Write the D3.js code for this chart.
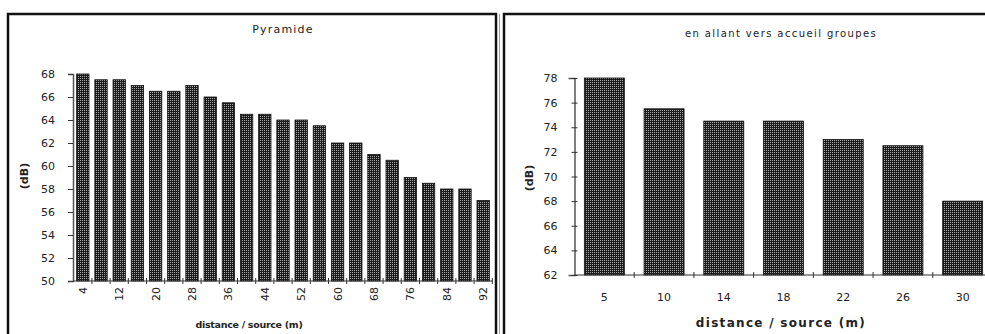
<!DOCTYPE html>
<html><head><meta charset="utf-8">
<script src="https://cdn.jsdelivr.net/npm/d3@7"></script>
<style>body{margin:0;background:#fff}svg{display:block}text{font-family:"DejaVu Sans",sans-serif;fill:#222}</style>
</head><body>
<script>
const leftCategories = [4,8,12,16,20,24,28,32,36,40,44,48,52,56,60,64,68,72,76,80,84,88,92];
const leftValues = [68,67.5,67.5,67,66.5,66.5,67,66,65.5,64.5,64.5,64,64,63.5,62,62,61,60.5,59,58.5,58,58,57];
const leftTicks = [50,52,54,56,58,60,62,64,66,68];
const leftTitle = "Pyramide";
const rightCategories = [5,10,14,18,22,26,30];
const rightValues = [78,75.5,74.5,74.5,73,72.5,68];
const rightTicks = [62,64,66,68,70,72,74,76,78];
const rightTitle = "en allant vers accueil groupes";
const xTitle = "distance / source (m)";
const yTitle = "(dB)";

const svg = d3.select("body").append("svg").attr("width",985).attr("height",334);
const defs = svg.append("defs");
const pat = defs.append("pattern").attr("id","dots").attr("width",2).attr("height",2).attr("patternUnits","userSpaceOnUse");
pat.append("rect").attr("width",2).attr("height",2).attr("fill","#1c1c1c");
pat.append("rect").attr("width",1).attr("height",1).attr("fill","#a8a8a8");

// panel borders
svg.append("rect").attr("x",8).attr("y",14).attr("width",488).attr("height",340).attr("fill","none").attr("stroke","#111").attr("stroke-width",2.5);
svg.append("line").attr("x1",499.5).attr("x2",499.5).attr("y1",14).attr("y2",334).attr("stroke","#999").attr("stroke-width",1);
svg.append("rect").attr("x",504).attr("y",14).attr("width",500).attr("height",340).attr("fill","none").attr("stroke","#111").attr("stroke-width",2.5);

function panel(cfg){
  const x = d3.scaleBand().domain(cfg.cats).range(cfg.xr).paddingInner(cfg.pi).paddingOuter(cfg.po);
  const y = d3.scaleLinear().domain(cfg.yd).range(cfg.yr);
  const g = svg.append("g");
  g.selectAll("rect.bar").data(cfg.vals).join("rect").attr("class","bar")
    .attr("x",(d,i)=>x(cfg.cats[i])).attr("width",x.bandwidth())
    .attr("y",d=>y(d)).attr("height",d=>y(cfg.yd[0])-y(d))
    .attr("fill","url(#dots)").attr("stroke","#111").attr("stroke-width",0.8);
  // y axis
  const ya = d3.axisLeft(y).tickValues(cfg.yticks).tickSize(cfg.tickSize).tickPadding(cfg.tickPad);
  const yg = g.append("g").attr("transform",`translate(${cfg.xr[0]},0)`).call(ya);
  yg.select(".domain").attr("stroke","#555").attr("stroke-width",1.5);
  yg.selectAll(".tick line").attr("stroke","#333").attr("transform", cfg.cross? "translate(3,0)":null).attr("x2",-cfg.tickSize);
  yg.selectAll("text").style("font-size","11px").attr("fill","#222");
  // x axis line
  g.append("line").attr("x1",cfg.xr[0]).attr("x2",cfg.xEnd).attr("y1",cfg.yr[0]).attr("y2",cfg.yr[0]).attr("stroke","#333").attr("stroke-width",1.2);
  // ticks at band boundaries
  const step = x.step();
  const bounds = cfg.cats.slice(1).map(c=>x(c)-step*x.paddingInner()/2);
  bounds.push(x(cfg.cats[cfg.cats.length-1])+x.bandwidth()+step*x.paddingInner()/2);
  g.selectAll("line.xt").data(bounds).join("line").attr("class","xt")
    .attr("x1",d=>d).attr("x2",d=>d).attr("y1",cfg.yr[0]-3).attr("y2",cfg.yr[0]+3).attr("stroke","#333");
  // x labels
  const labs = g.selectAll("text.xl").data(cfg.cats.filter((c,i)=>i%cfg.every===0)).join("text").attr("class","xl")
    .style("font-size","11px").text(d=>d);
  if(cfg.rotate){
    labs.attr("transform",d=>`translate(${x(d)+x.bandwidth()/2+4},${cfg.labY}) rotate(-90)`).attr("text-anchor","end");
  } else {
    labs.attr("x",d=>x(d)+x.bandwidth()/2).attr("y",cfg.labY).attr("text-anchor","middle");
  }
  g.append("text").attr("x",cfg.titleX).attr("y",cfg.titleY).attr("text-anchor","middle")
    .style("font-size",cfg.titleSize).style("letter-spacing",cfg.titleLS).text(cfg.title);
  g.append("text").attr("x",cfg.xtX).attr("y",cfg.xtY).attr("text-anchor","middle")
    .style("font-size",cfg.xtSize).style("letter-spacing",cfg.xtLS).style("font-weight","bold").text(xTitle);
  g.append("text").attr("transform",`translate(${cfg.ytX},${cfg.ytY}) rotate(-90)`).attr("text-anchor","middle").style("font-size","11px").style("font-weight","bold").text(yTitle);
}

panel({cats:leftCategories, vals:leftValues, yticks:leftTicks, yd:[50,68], yr:[281,74], xr:[73,493], xEnd:493,
  pi:0.32, po:0.2, tickSize:5, tickPad:13, cross:false, every:2, rotate:true, labY:287,
  title:leftTitle, titleX:283, titleY:33, titleSize:"11px", titleLS:"1.2px",
  xtX:249, xtY:328, xtSize:"9.5px", xtLS:"-0.3px", ytX:28, ytY:176});
panel({cats:rightCategories, vals:rightValues, yticks:rightTicks, yd:[62,78], yr:[275,78], xr:[574.5,992.5], xEnd:990,
  pi:0.33, po:0.165, tickSize:6, tickPad:11, cross:true, every:1, rotate:false, labY:301,
  title:rightTitle, titleX:781, titleY:37, titleSize:"10px", titleLS:"1.4px",
  xtX:781, xtY:327, xtSize:"12px", xtLS:"1.3px", ytX:533, ytY:178});
</script>
</body></html>
